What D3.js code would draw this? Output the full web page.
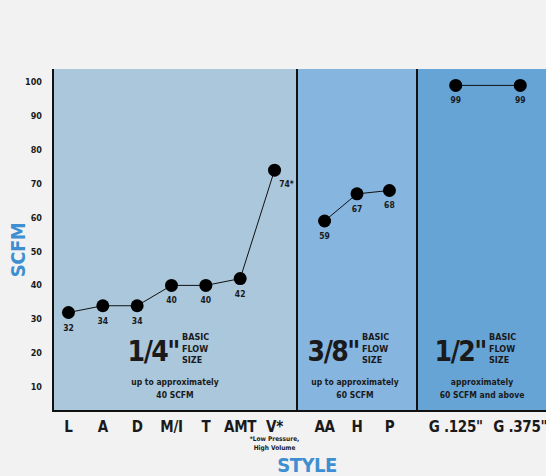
<!doctype html>
<html>
<head>
  <meta charset="utf-8">
  <script src="https://cdnjs.cloudflare.com/ajax/libs/d3/7.8.5/d3.min.js"></script>
  <style>
    body { margin: 0; background: #f2f2f2; }
    svg { display: block; }
    text { font-family: 'DejaVu Sans Condensed', 'Liberation Sans Narrow', 'DejaVu Sans', sans-serif; font-weight: bold; fill: #1a1a1a; }
  </style>
</head>
<body>
  <script>
    // chart values
    const groupNames = ['1/4"', '3/8"', '1/2"'];
    const groupNotes = [
      ['up to approximately', '40 SCFM'],
      ['up to approximately', '60 SCFM'],
      ['approximately', '60 SCFM and above']
    ];
    const styles14 = ['L', 'A', 'D', 'M/I', 'T', 'AMT', 'V*'];
    const scfm14 = [32, 34, 34, 40, 40, 42, 74];
    const styles38 = ['AA', 'H', 'P'];
    const scfm38 = [59, 67, 68];
    const styles12 = ['G .125"', 'G .375"'];
    const scfm12 = [99, 99];
    const yTicks = [10, 20, 30, 40, 50, 60, 70, 80, 90, 100];

    const width = 546, height = 476;
    const plotLeft = 53, plotTop = 69, plotBottom = 411;
    const panelEdges = [53, 297, 417, 551];
    const panelColors = ['#abc7dc', '#86b5e0', '#67a4d6'];
    const blue = '#3d8fd1';

    const groups = [
      { styles: styles14, values: scfm14, range: [53, 290], pad: 0.45 },
      { styles: styles38, values: scfm38, range: [297, 417], pad: 0.85 },
      { styles: styles12, values: scfm12, range: [417, 559], pad: 0.6 }
    ];

    const svg = d3.select('body').append('svg')
      .attr('width', width)
      .attr('height', height);

    const y = d3.scaleLinear().domain([0, 100]).range([421, 82]);

    // panels
    groups.forEach((g, i) => {
      const x0 = panelEdges[i], x1 = panelEdges[i + 1];
      svg.append('rect')
        .attr('x', x0).attr('y', plotTop)
        .attr('width', x1 - x0).attr('height', plotBottom - plotTop)
        .attr('fill', panelColors[i]);
      g.x = d3.scalePoint().domain(g.styles).range(g.range).padding(g.pad);
      g.cx = (x0 + x1) / 2 - (i == 0 ? 0 : 2);
    });

    // dividers
    svg.selectAll('.div').data(panelEdges.slice(1, 3)).enter().append('line')
      .attr('x1', d => d).attr('x2', d => d)
      .attr('y1', plotTop).attr('y2', plotBottom)
      .attr('stroke', '#111').attr('stroke-width', 2);

    // axes lines
    svg.append('line').attr('x1', plotLeft).attr('x2', plotLeft).attr('y1', plotTop).attr('y2', plotBottom + 1)
      .attr('stroke', '#111').attr('stroke-width', 2);
    svg.append('line').attr('x1', plotLeft).attr('x2', width).attr('y1', plotBottom).attr('y2', plotBottom)
      .attr('stroke', '#111').attr('stroke-width', 2);

    // y tick labels
    svg.selectAll('.ytick').data(yTicks).enter().append('text')
      .attr('x', 42).attr('y', d => y(d) + 3)
      .attr('text-anchor', 'end')
      .attr('font-size', 9)
      .text(d => d);

    // axis titles
    svg.append('text')
      .attr('transform', 'translate(25,250) rotate(-90)')
      .attr('text-anchor', 'middle')
      .attr('font-size', 20)
      .attr('letter-spacing', -0.5)
      .style('fill', blue)
      .text('SCFM');
    svg.append('text')
      .attr('x', 307).attr('y', 472)
      .attr('text-anchor', 'middle')
      .attr('font-size', 20)
      .attr('letter-spacing', -0.5)
      .style('fill', blue)
      .text('STYLE');

    groups.forEach((g, i) => {
      const pts = g.styles.map((s, j) => ({ s: s, v: g.values[j] }));

      // x labels
      svg.selectAll('.xl' + i).data(pts).enter().append('text')
        .attr('x', d => g.x(d.s)).attr('y', 432)
        .attr('text-anchor', 'middle')
        .attr('font-size', 15)
        .attr('letter-spacing', -0.3)
        .text(d => d.s);

      // line
      svg.append('path')
        .datum(pts)
        .attr('fill', 'none')
        .attr('stroke', '#111')
        .attr('stroke-width', 1)
        .attr('d', d3.line().x(d => g.x(d.s)).y(d => y(d.v)));

      // dots
      svg.selectAll('.dot' + i).data(pts).enter().append('circle')
        .attr('cx', d => g.x(d.s)).attr('cy', d => y(d.v))
        .attr('r', 6.5).attr('fill', '#000');

      // value labels
      svg.selectAll('.vl' + i).data(pts).enter().append('text')
        .attr('x', d => g.x(d.s) + (d.s == 'V*' ? 12 : 0))
        .attr('y', d => y(d.v) + (d.s == 'V*' ? 17 : 18))
        .attr('text-anchor', 'middle')
        .attr('font-size', 8.5)
        .text(d => d.v + (d.s == 'V*' ? '*' : ''));

      // size block
      svg.append('text')
        .attr('x', g.cx + 4).attr('y', 361)
        .attr('text-anchor', 'end')
        .attr('font-size', 28)
        .attr('letter-spacing', -1.5)
        .text(groupNames[i]);
      ['BASIC', 'FLOW', 'SIZE'].forEach((w, k) => {
        svg.append('text')
          .attr('x', g.cx + 7).attr('y', 340 + k * 11.5)
          .attr('font-size', 9)
          .text(w);
      });
      groupNotes[i].forEach((w, k) => {
        svg.append('text')
          .attr('x', g.cx).attr('y', 385 + k * 12.5)
          .attr('text-anchor', 'middle')
          .attr('font-size', 8.5)
          .text(w);
      });
    });

    // footnote under V*
    ['*Low Pressure,', 'High Volume'].forEach((w, k) => {
      svg.append('text')
        .attr('x', groups[0].x('V*')).attr('y', 441 + k * 8.5)
        .attr('text-anchor', 'middle')
        .attr('font-size', 6.5)
        .text(w);
    });
  </script>
</body>
</html>
